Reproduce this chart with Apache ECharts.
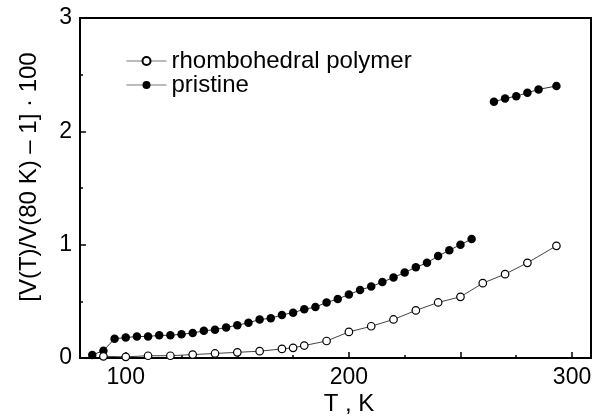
<!DOCTYPE html>
<html>
<head>
<meta charset="utf-8">
<script src="https://cdn.jsdelivr.net/npm/echarts@6/dist/echarts.min.js"></script>
<style>
html,body{margin:0;padding:0;background:#fff;}
#c{width:598px;height:416px;}
</style>
</head>
<body>
<div id="c"></div>
<script>
// Data
var pristineT = [85,90,95,100,105,110,115,120,125,130,135,140,145,150,155,160,165,170,175,180,185,190,195,200,205,210,215,220,225,230,235,240,245,250,255,260,265,270,275,280,285,293];
var pristineV = [0.027,0.065,0.17,0.18,0.19,0.19,0.20,0.20,0.21,0.22,0.24,0.25,0.27,0.29,0.31,0.34,0.35,0.38,0.40,0.43,0.45,0.49,0.52,0.56,0.60,0.63,0.67,0.71,0.755,0.80,0.84,0.90,0.95,1.00,1.05,null,2.26,2.29,2.31,2.34,2.37,2.40];
var rhomboT = [90,100,110,120,130,140,150,160,170,175,180,190,200,210,220,230,240,250,260,270,280,293];
var rhomboV = [0.015,0.01,0.02,0.02,0.03,0.04,0.05,0.06,0.08,0.09,0.11,0.15,0.23,0.28,0.34,0.42,0.49,0.54,0.66,0.74,0.84,0.99];
var xMajorTicks = [100,150,200,250,300];
var xMinorTicks = [125,175,225,275];
var xTickLabels = [100,200,300];
var yMajorTicks = [0,1,2,3];
var yMinorTicks = [0.5,1.5,2.5];
var seriesNames = ['rhombohedral polymer','pristine'];
var xTitle = 'T , K';
var yTitle = '[V(T)/V(80 K) \u2013 1] \u00b7 100';

function pairs(xs, ys){ return xs.map(function(x,i){ return [x, ys[i]]; }); }

var FONT = '"Liberation Sans", Arial, Helvetica, sans-serif';
var chart = echarts.init(document.getElementById('c'), null, {renderer:'canvas'});
var xCommon = {type:'value', min:79.5, max:308.5, position:'bottom', splitLine:{show:false}};
var yCommon = {type:'value', min:0, max:3, position:'left', splitLine:{show:false}};
chart.setOption({
  animation:false,
  backgroundColor:'#fff',
  grid:{left:80, right:7, top:18, bottom:58, show:true, borderColor:'#000', borderWidth:2, backgroundColor:'transparent'},
  legend:{
    orient:'vertical', left:121, top:44, itemGap:0, itemWidth:40, itemHeight:10,
    data:seriesNames,
    textStyle:{fontFamily:FONT, fontSize:24, color:'#000', lineHeight:22},
    lineStyle:{color:'#777', width:1}
  },
  xAxis:[
    Object.assign({}, xCommon, {
      axisLine:{show:true, onZero:false, lineStyle:{color:'#000', width:2}},
      axisTick:{show:true, inside:true, length:6, lineStyle:{color:'#000', width:1.5}, customValues:xMajorTicks},
      axisLabel:{show:true, margin:8, fontFamily:FONT, fontSize:23, color:'#000', customValues:xTickLabels}
    }),
    Object.assign({}, xCommon, {
      axisLine:{show:false},
      axisTick:{show:true, inside:true, length:3, lineStyle:{color:'#000', width:1.5}, customValues:xMinorTicks},
      axisLabel:{show:false}
    })
  ],
  yAxis:[
    Object.assign({}, yCommon, {
      axisLine:{show:true, onZero:false, lineStyle:{color:'#000', width:2}},
      axisTick:{show:true, inside:true, length:6, lineStyle:{color:'#000', width:1.5}, customValues:yMajorTicks},
      axisLabel:{show:true, margin:8, fontFamily:FONT, fontSize:23, color:'#000', customValues:yMajorTicks}
    }),
    Object.assign({}, yCommon, {
      axisLine:{show:false},
      axisTick:{show:true, inside:true, length:3, lineStyle:{color:'#000', width:1.5}, customValues:yMinorTicks},
      axisLabel:{show:false}
    })
  ],
  graphic:[
    {type:'text', x:29, y:177, rotation:Math.PI/2, style:{text:yTitle, fontFamily:FONT, fontSize:24, fill:'#000', textAlign:'center', textVerticalAlign:'middle'}},
    {type:'text', x:349, y:404, style:{text:xTitle, fontFamily:FONT, fontSize:24, fill:'#000', textAlign:'center', textVerticalAlign:'middle'}}
  ],
  series:[
    {
      name:seriesNames[1], type:'line', data:pairs(pristineT, pristineV), connectNulls:false,
      symbol:'circle', symbolSize:8.5, showSymbol:true,
      lineStyle:{color:'#333', width:1},
      itemStyle:{color:'#000', borderColor:'#000', borderWidth:0},
      z:2
    },
    {
      name:seriesNames[0], type:'line', data:pairs(rhomboT, rhomboV),
      symbol:'circle', symbolSize:7.5, showSymbol:true,
      lineStyle:{color:'#444', width:1},
      itemStyle:{color:'#fff', borderColor:'#000', borderWidth:1.2},
      z:3
    }
  ]
});
</script>
</body>
</html>
